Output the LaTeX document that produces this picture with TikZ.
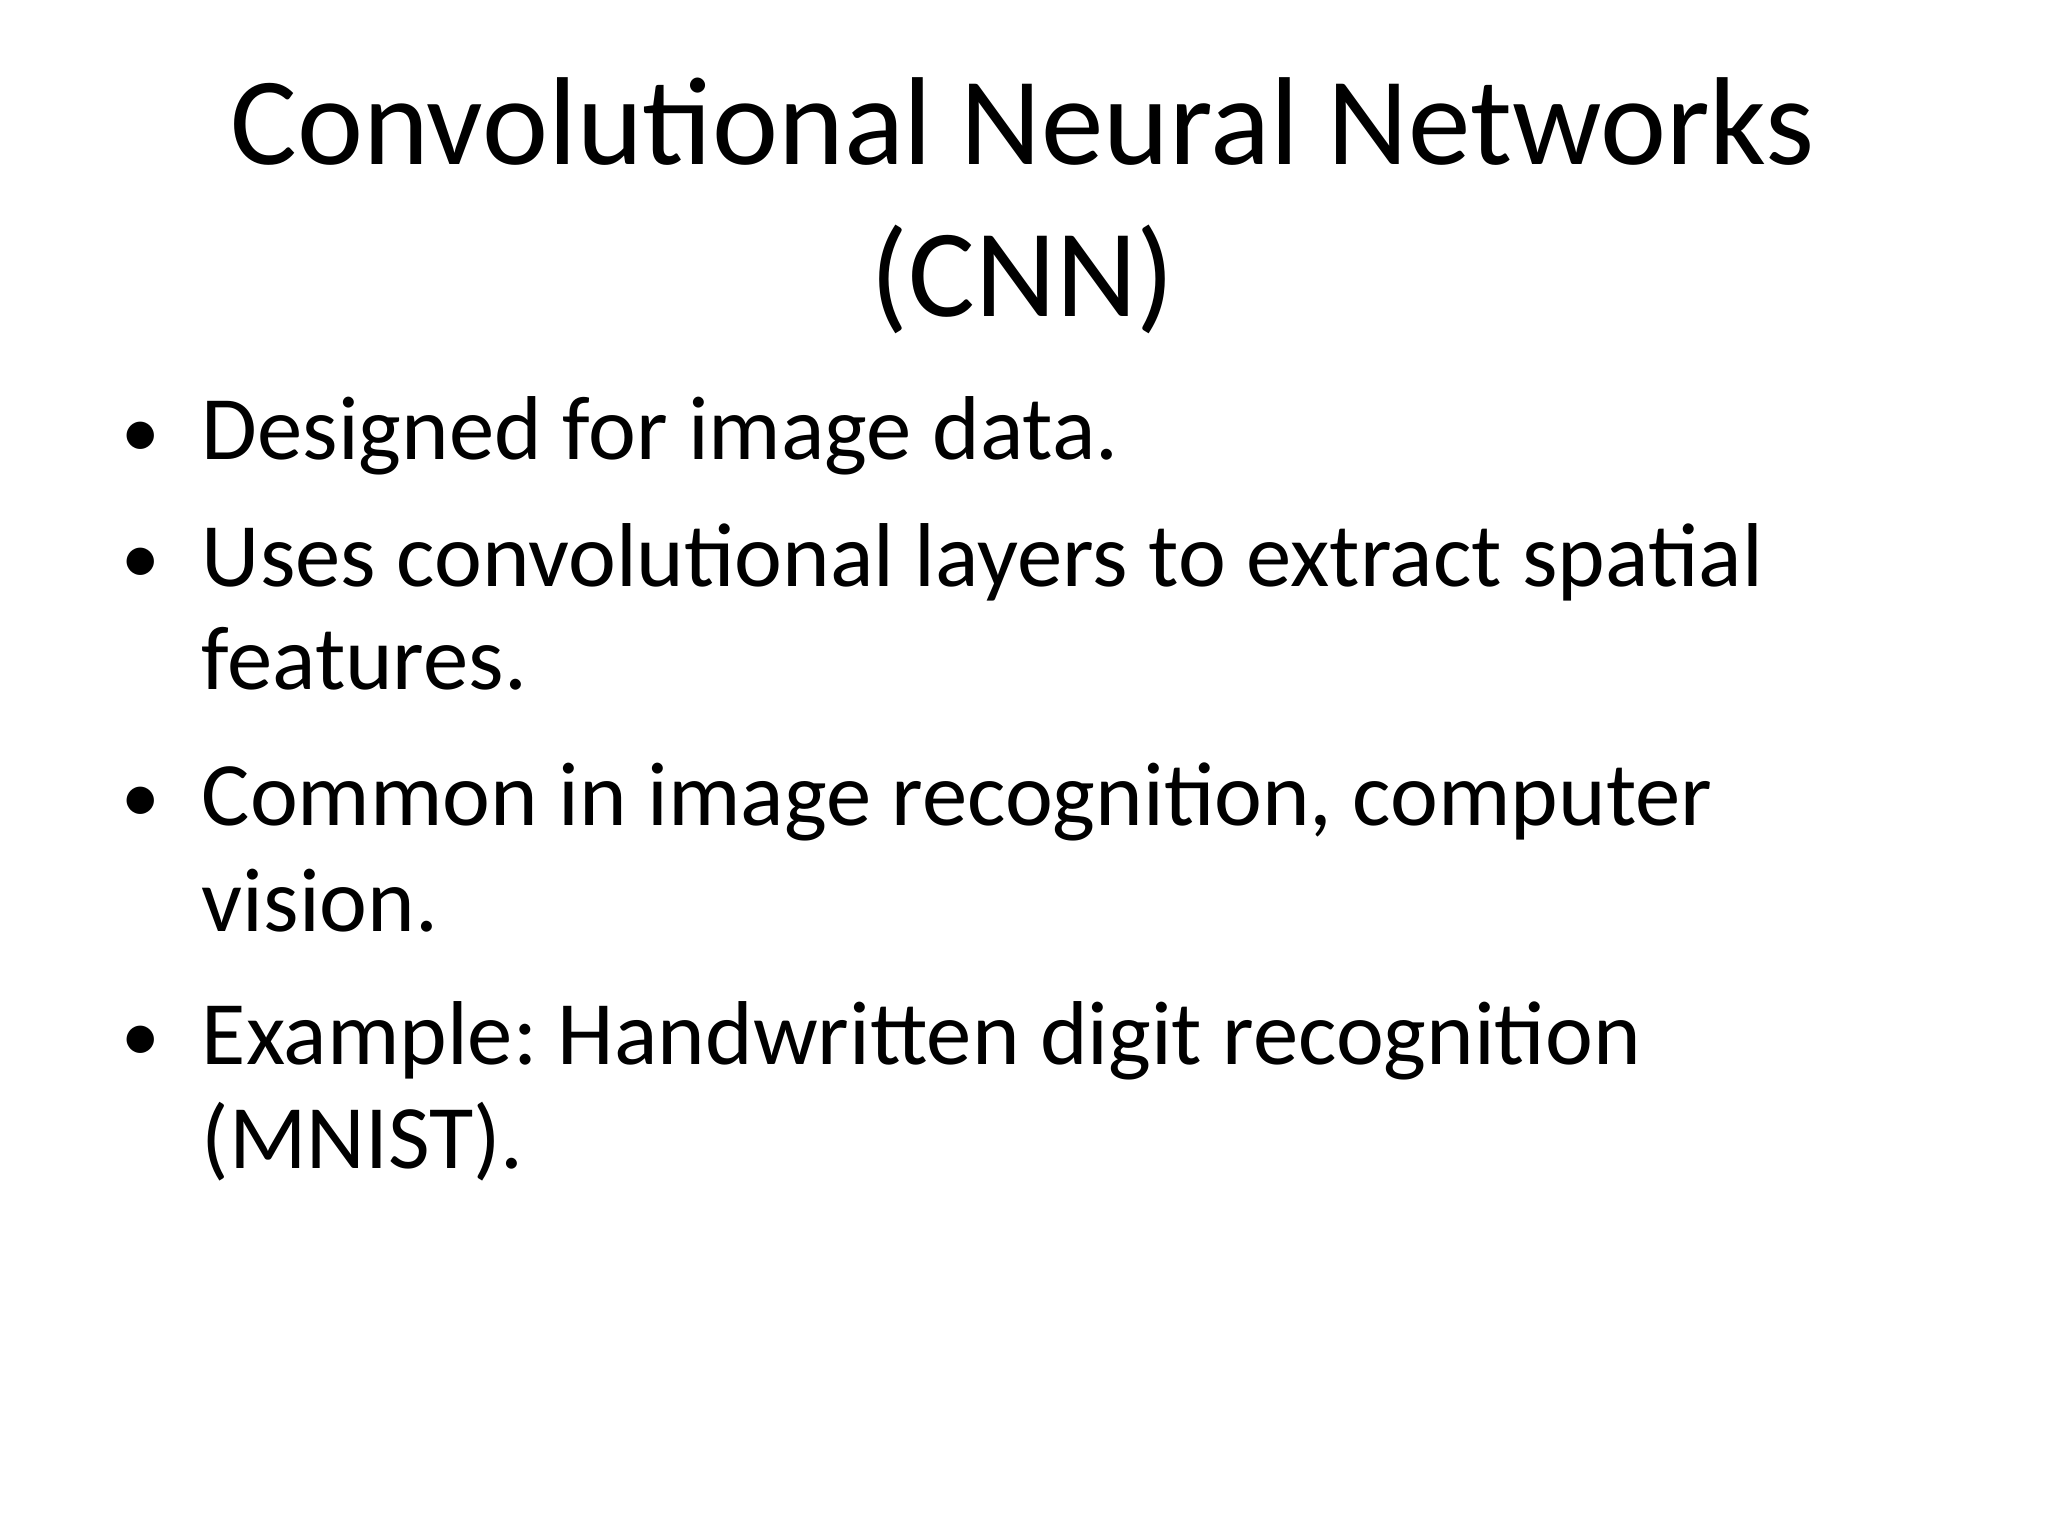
\documentclass[tikz,border=0pt]{standalone}
\usepackage{fontspec}
\setmainfont{Carlito}
\frenchspacing
\begin{document}
\begin{tikzpicture}[x=0.013061cm,y=-0.013061cm,
  title/.style={anchor=base,inner sep=0pt,font=\fontsize{35.6pt}{40pt}\selectfont},
  line/.style={anchor=base west,inner sep=0pt,font=\fontsize{25.8pt}{30pt}\selectfont},
  dot/.style={anchor=base,inner sep=0pt,font=\fontsize{22pt}{26pt}\selectfont}]
\useasboundingbox[fill=white] (0,0) rectangle (1568,1176);
\node[title] (t1) at (783,126) {\frenchspacing Convolutional Neural Networks};
\node[title] (t2) at (783,242) {(CNN)};
\node[dot] (b1) at (108,350) {•};
\node[line] (l1) at (154,352) {\frenchspacing Designed for image data.};
\node[dot] (b2) at (108,447) {•};
\node[line] (l2) at (154,449) {\frenchspacing Uses convolutional layers to extract spatial};
\node[line] (l3) at (154,528) {features.};
\node[dot] (b3) at (108,630) {•};
\node[line] (l4) at (154,632) {\frenchspacing Common in image recognition, computer};
\node[line] (l5) at (154,713) {vision.};
\node[dot] (b4) at (108,813) {•};
\node[line] (l6) at (154,815) {\frenchspacing Example: Handwritten digit recognition};
\node[line] (l7) at (154,895) {(MNIST).};
\end{tikzpicture}
\end{document}
